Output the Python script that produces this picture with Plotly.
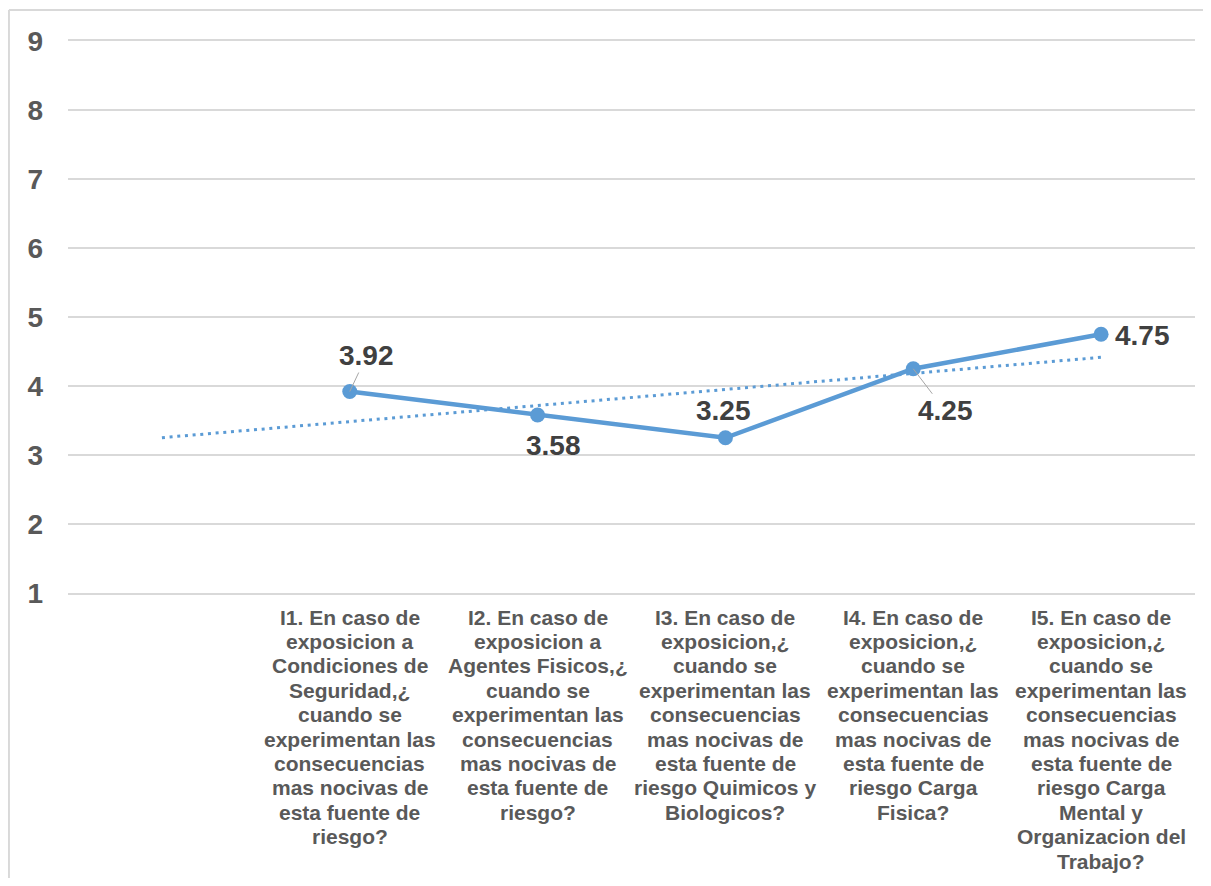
import numpy as np
import plotly.graph_objects as go

# first slot is an empty category (no value), as in the source sheet
categories = [
    "",
    "I1. En caso de<br>exposicion a<br>Condiciones de<br>Seguridad,¿<br>cuando se<br>experimentan las<br>consecuencias<br>mas nocivas de<br>esta fuente de<br>riesgo?",
    "I2. En caso de<br>exposicion a<br>Agentes Fisicos,¿<br>cuando se<br>experimentan las<br>consecuencias<br>mas nocivas de<br>esta fuente de<br>riesgo?",
    "I3. En caso de<br>exposicion,¿<br>cuando se<br>experimentan las<br>consecuencias<br>mas nocivas de<br>esta fuente de<br>riesgo Quimicos y<br>Biologicos?",
    "I4. En caso de<br>exposicion,¿<br>cuando se<br>experimentan las<br>consecuencias<br>mas nocivas de<br>esta fuente de<br>riesgo Carga<br>Fisica?",
    "I5. En caso de<br>exposicion,¿<br>cuando se<br>experimentan las<br>consecuencias<br>mas nocivas de<br>esta fuente de<br>riesgo Carga<br>Mental y<br>Organizacion del<br>Trabajo?",
]
values = [None, 3.92, 3.58, 3.25, 4.25, 4.75]
y_ticks = [1, 2, 3, 4, 5, 6, 7, 8, 9]

BLUE = "#5B9BD5"
GRID = "#D9D9D9"
FONT = "Liberation Sans"

x_idx = list(range(len(categories)))

# linear trendline (Excel style) over the points that have a value
xs = np.array([i for i, v in zip(x_idx, values) if v is not None], dtype=float)
ys = np.array([v for v in values if v is not None], dtype=float)
slope, intercept = np.polyfit(xs, ys, 1)
trend_x = [x_idx[0], x_idx[-1]]
trend_y = [slope * t + intercept for t in trend_x]

fig = go.Figure()

fig.add_trace(go.Scatter(
    x=trend_x, y=trend_y,
    mode="lines",
    line=dict(color=BLUE, width=3, dash="3px,4.7px"),
    showlegend=False, hoverinfo="skip",
))

fig.add_trace(go.Scatter(
    x=x_idx, y=values,
    mode="lines+markers",
    line=dict(color=BLUE, width=4.5),
    marker=dict(color=BLUE, size=15),
    showlegend=False,
))

# data labels: (dx, dy) pixel offsets of the label centre, leader line or not
label_pos = [None, (17, -36, True), (16, 31, False), (-2, -27, False),
             (32, 42, True), (41, 1, False)]
for i, v in enumerate(values):
    if v is None:
        continue
    dx, dy, leader = label_pos[i]
    if leader:
        fig.add_annotation(
            x=i, y=v, text=f"{v:.2f}", showarrow=True,
            ax=dx, ay=dy, arrowhead=0, arrowwidth=1, arrowcolor="#A6A6A6",
            font=dict(family=FONT, size=28, color="#404040", weight="bold"),
        )
    else:
        fig.add_annotation(
            x=i, y=v, text=f"{v:.2f}", showarrow=False,
            xshift=dx, yshift=-dy,
            font=dict(family=FONT, size=28, color="#404040", weight="bold"),
        )

# category labels, one annotation per line to keep Excel's tight line spacing
line_gap = 24.4
for i, lab in enumerate(categories):
    if not lab:
        continue
    for j, line in enumerate(lab.split("<br>")):
        fig.add_annotation(
            x=i, y=0, xref="x", yref="paper", text=line, showarrow=False,
            yanchor="middle", yshift=-24 - line_gap * j,
            font=dict(family=FONT, size=21, color="#595959", weight="bold"),
        )

# outer chart border (top and left visible in the crop)
fig.add_shape(type="line", xref="paper", yref="paper",
              x0=-0.0524, x1=1.1, y0=1.056, y1=1.056,
              line=dict(color=GRID, width=2))
fig.add_shape(type="line", xref="paper", yref="paper",
              x0=-0.0524, x1=-0.0524, y0=-0.6, y1=1.056,
              line=dict(color=GRID, width=2))

# the page adds an 8px body margin, so the figure is sized to fit inside
fig.update_layout(
    width=1203, height=870,
    margin=dict(l=60, r=16, t=33, b=285),
    paper_bgcolor="white", plot_bgcolor="white",
    font=dict(family=FONT),
    xaxis=dict(
        range=[-0.5, len(categories) - 0.5],
        showticklabels=False, showgrid=False, zeroline=False,
        showline=True, mirror=True, linecolor=GRID, linewidth=1.5,
    ),
    yaxis=dict(
        range=[y_ticks[0], y_ticks[-1]],
        tickvals=y_ticks,
        showgrid=True, gridcolor=GRID, gridwidth=1.5,
        zeroline=False, showline=False,
        ticklabelstandoff=24,
        tickfont=dict(family=FONT, size=28, color="#595959", weight="bold"),
    ),
)

fig.write_html("out.html")
